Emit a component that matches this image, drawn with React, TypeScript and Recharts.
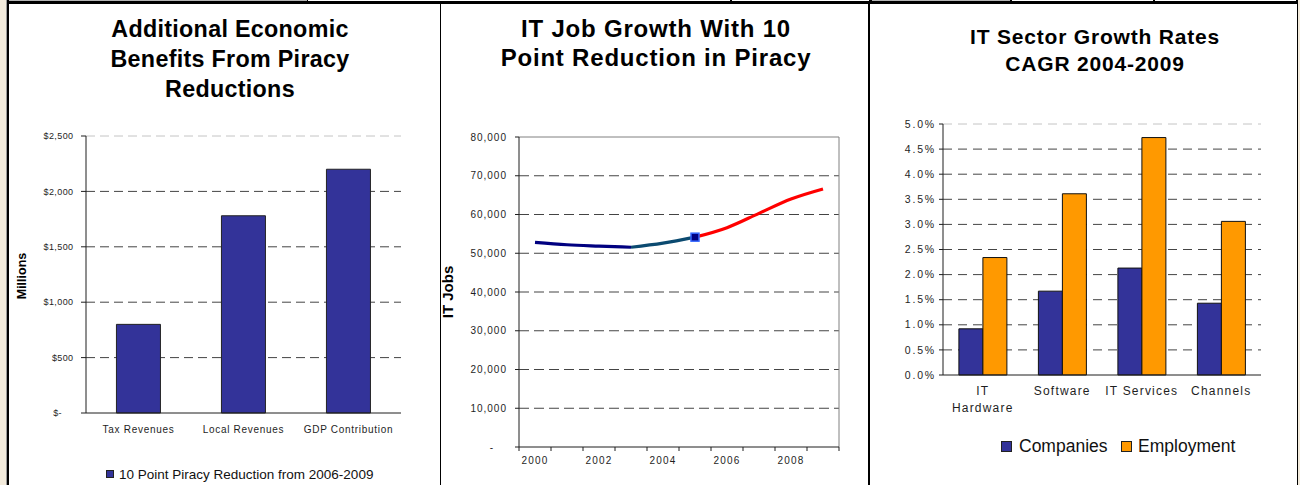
import React from 'react';
import { BarChart, Bar, LineChart, Line, XAxis, YAxis, CartesianGrid } from 'recharts';

const FONT = '"Liberation Sans", Arial, Helvetica, sans-serif';
const INK = '#1e1e1e';
const NAVY = '#333399';
const ORANGE = '#FF9900';

// ---------- Panel 1: Additional Economic Benefits ----------
const benefitTitle = ['Additional Economic', 'Benefits From Piracy', 'Reductions'];
const benefitCategories = ['Tax Revenues', 'Local Revenues', 'GDP Contribution'];
const benefitValues = [800, 1780, 2200];
const benefitTicks = [0, 500, 1000, 1500, 2000, 2500];
const benefitAxisLabel = 'Millions';
const benefitSeries = '10 Point Piracy Reduction from 2006-2009';

// ---------- Panel 2: IT Job Growth ----------
const jobTitle = ['IT Job Growth With 10', 'Point Reduction in Piracy'];
const jobYears = [2000, 2001, 2002, 2003, 2004, 2005, 2006, 2007, 2008, 2009];
const itJobs = [52800, 52200, 51850, 51550, 52600, 54150, 56600, 60300, 64000, 66600];
const jobTicks = [0, 10000, 20000, 30000, 40000, 50000, 60000, 70000, 80000];
const jobLabelYears = [2000, 2002, 2004, 2006, 2008];
const jobAxisLabel = 'IT Jobs';
const historicEndYear = 2003;
const projectionStartYear = 2005;

// ---------- Panel 3: IT Sector Growth Rates ----------
const growthTitle = ['IT Sector Growth Rates', 'CAGR 2004-2009'];
const sectors = ['IT Hardware', 'Software', 'IT Services', 'Channels'];
const companiesGrowth = [0.92, 1.67, 2.13, 1.43];
const employmentGrowth = [2.34, 3.61, 4.73, 3.06];
const growthTicks = [0, 0.5, 1, 1.5, 2, 2.5, 3, 3.5, 4, 4.5, 5];
const growthSeries = ['Companies', 'Employment'];

// ---------- derived tables ----------
const benefitData = benefitCategories.map((c, i) => ({ category: c, value: benefitValues[i] }));
const benefitBounds = benefitCategories.map((_, i) => i).concat(benefitCategories.length);

const jobData = jobYears.map((y, i) => ({
  year: y,
  historic: y <= historicEndYear ? itJobs[i] : null,
  transition: y >= historicEndYear && y <= projectionStartYear ? itJobs[i] : null,
  projected: y >= projectionStartYear ? itJobs[i] : null,
}));
const jobBounds = jobYears.map((y) => y - 0.5).concat(jobYears[jobYears.length - 1] + 0.5);
const jobAxisTicks = [...jobBounds, ...jobLabelYears].sort((a, b) => a - b);

const sectorData = sectors.map((s, i) => ({
  sector: s,
  companies: companiesGrowth[i],
  employment: employmentGrowth[i],
}));
const sectorBounds = sectors.map((_, i) => i).concat(sectors.length);

// ---------- helpers ----------
let measureCtx: CanvasRenderingContext2D | null = null;
const measureText = (s: string, font: string, ls: number) => {
  if (!measureCtx) measureCtx = document.createElement('canvas').getContext('2d');
  if (!measureCtx) return s.length * 7;
  measureCtx.font = font;
  return measureCtx.measureText(s).width + ls * s.length;
};
const wrapLabel = (label: string, maxW: number, font: string, ls: number) => {
  const words = label.split(' ');
  const lines: string[] = [];
  let cur = '';
  words.forEach((w) => {
    const cand = cur ? cur + ' ' + w : w;
    if (cur && measureText(cand, font, ls) > maxW) {
      lines.push(cur);
      cur = w;
    } else {
      cur = cand;
    }
  });
  if (cur) lines.push(cur);
  return lines;
};

type GridOpts = { color: string; dash: string; topColor: string; topDash?: string };
const makeHGrid = (o: GridOpts) => (p: any) => {
  const top = typeof p.y === 'number' && Math.abs(p.y1 - p.y) < 0.5;
  const bottom =
    typeof p.y === 'number' && typeof p.height === 'number' && Math.abs(p.y1 - (p.y + p.height)) < 0.5;
  if (bottom) return <g key={p.key} />;
  return (
    <line
      key={p.key}
      x1={p.x1}
      y1={p.y1}
      x2={p.x2}
      y2={p.y2}
      stroke={top ? o.topColor : o.color}
      strokeWidth={1}
      strokeDasharray={top ? o.topDash : o.dash}
    />
  );
};

const rightBorderOnly = (p: any) => {
  const isRight = typeof p.x === 'number' && typeof p.width === 'number' && Math.abs(p.x1 - (p.x + p.width)) < 0.5;
  if (!isRight) return <g key={p.key} />;
  return <line key={p.key} x1={p.x1} y1={p.y1} x2={p.x2} y2={p.y2} stroke="#808080" strokeWidth={1} />;
};

const Title = ({ lines, left, top, width, size, lh, ls }: any) => (
  <div
    style={{
      position: 'absolute',
      left,
      top,
      width,
      textAlign: 'center',
      fontSize: size,
      lineHeight: `${lh}px`,
      fontWeight: 'bold',
      letterSpacing: ls,
      color: '#000',
      whiteSpace: 'nowrap',
    }}
  >
    {lines.map((l: string) => (
      <div key={l}>{l}</div>
    ))}
  </div>
);

const RotLabel = ({ text, cx, cy, size }: any) => (
  <div
    style={{
      position: 'absolute',
      left: cx - 100,
      top: cy - 10,
      width: 200,
      height: 20,
      lineHeight: '20px',
      textAlign: 'center',
      transform: 'rotate(-90deg)',
      fontWeight: 'bold',
      fontSize: size,
      color: '#000',
    }}
  >
    {text}
  </div>
);

// ---------- tick renderers ----------
const BenefitXTick = (p: any) => (
  <text x={p.x} y={p.y + 20} textAnchor="middle" fontSize={10} letterSpacing={0.7} fill={INK} fontFamily={FONT}>
    {p.payload.value}
  </text>
);
const BenefitYTick = (p: any) => {
  const v = p.payload.value;
  return (
    <text
      x={p.x - (v === 0 ? 11.5 : 0)}
      y={p.y}
      dy="0.35em"
      textAnchor="end"
      fontSize={9}
      letterSpacing={0.4}
      fill={INK}
      fontFamily={FONT}
    >
      {v === 0 ? '$-' : '$' + v.toLocaleString('en-US')}
    </text>
  );
};

const JobXTick = (p: any) => {
  const v = p.payload.value;
  if (jobLabelYears.includes(v)) {
    return (
      <text x={p.x} y={p.y + 17} textAnchor="middle" fontSize={10} letterSpacing={1.2} fill={INK} fontFamily={FONT}>
        {String(v)}
      </text>
    );
  }
  if (jobBounds.includes(v)) {
    return <line x1={p.x} y1={p.y} x2={p.x} y2={p.y + 4} stroke={INK} strokeWidth={1} />;
  }
  return <g />;
};
const JobYTick = (p: any) => {
  const v = p.payload.value;
  return (
    <text
      x={p.x - (v === 0 ? 13 : 0)}
      y={p.y}
      dy="0.35em"
      textAnchor="end"
      fontSize={10}
      letterSpacing={1}
      fill={INK}
      fontFamily={FONT}
    >
      {v === 0 ? '-' : v.toLocaleString('en-US')}
    </text>
  );
};

const SECTOR_FONT = `12px ${FONT}`;
const SectorXTick = (p: any) => {
  const lines = wrapLabel(String(p.payload.value), 76, SECTOR_FONT, 1.2);
  return (
    <text x={p.x} y={p.y + 20.3} textAnchor="middle" fontSize={12} letterSpacing={1.2} fill={INK} fontFamily={FONT}>
      {lines.map((l, i) => (
        <tspan key={l} x={p.x} dy={i === 0 ? 0 : 16.4}>
          {l}
        </tspan>
      ))}
    </text>
  );
};
const SectorYTick = (p: any) => (
  <text x={p.x} y={p.y} dy="0.35em" textAnchor="end" fontSize={10.5} letterSpacing={1.8} fill={INK} fontFamily={FONT}>
    {p.payload.value.toFixed(1) + '%'}
  </text>
);

const MarkerDot = (p: any) => {
  if (!p.payload || p.payload.year !== projectionStartYear || p.cx == null || p.cy == null) {
    return <g key={p.key} />;
  }
  return (
    <rect key={p.key} x={p.cx - 4} y={p.cy - 4} width={8} height={8} fill="#000080" stroke="#3366FF" strokeWidth={1.5} />
  );
};

// ---------- page ----------
export default function App() {
  return (
    <div
      style={{
        position: 'absolute',
        left: 0,
        top: 0,
        width: 1300,
        height: 485,
        background: '#fff',
        overflow: 'hidden',
        fontFamily: FONT,
      }}
    >
      {/* frame */}
      <div style={{ position: 'absolute', left: 0, top: 0, width: 6, height: 485, background: '#f3ebdc' }} />
      <div style={{ position: 'absolute', left: 6, top: 0, width: 1, height: 485, background: '#9a9a9a' }} />
      <div style={{ position: 'absolute', left: 7, top: 0, width: 1.5, height: 485, background: '#000' }} />
      <div style={{ position: 'absolute', left: 1297, top: 0, width: 1.3, height: 485, background: '#000' }} />
      <div style={{ position: 'absolute', left: 1298.3, top: 0, width: 2, height: 485, background: '#f3ebdc' }} />
      <div style={{ position: 'absolute', left: 7, top: 0, width: 1291, height: 4.2, background: '#000' }} />
      <div style={{ position: 'absolute', left: 8.5, top: 0, width: 298, height: 1.3, background: '#b4b4b4' }} />
      <div style={{ position: 'absolute', left: 308, top: 0, width: 422, height: 1.3, background: '#fff' }} />
      <div style={{ position: 'absolute', left: 732, top: 0, width: 137, height: 1.3, background: '#fff' }} />
      <div style={{ position: 'absolute', left: 871.5, top: 0, width: 138.5, height: 1.3, background: '#b4b4b4' }} />
      <div style={{ position: 'absolute', left: 1012, top: 0, width: 141, height: 1.3, background: '#fff' }} />
      <div style={{ position: 'absolute', left: 1155, top: 0, width: 141, height: 1.3, background: '#fff' }} />
      <div style={{ position: 'absolute', left: 440, top: 4, width: 1, height: 481, background: '#000' }} />
      <div style={{ position: 'absolute', left: 868, top: 4, width: 2, height: 481, background: '#000' }} />

      {/* ---------- Panel 1 ---------- */}
      <Title lines={benefitTitle} left={20} top={14.4} width={420} size={23.3} lh={30} ls={0.3} />
      <RotLabel text={benefitAxisLabel} cx={21.5} cy={276} size={12.5} />
      <div style={{ position: 'absolute', left: 7, top: 110 }}>
        <BarChart
          width={433}
          height={336}
          data={benefitData}
          margin={{ top: 26, right: 39, bottom: 0, left: 0 }}
          barCategoryGap="29%"
        >
          <CartesianGrid vertical={false} horizontal={makeHGrid({ color: '#444', dash: '9 5', topColor: '#c4c4c4', topDash: '9 5' })} />
          <XAxis
            xAxisId="bounds"
            type="number"
            domain={[0, benefitCategories.length]}
            ticks={benefitBounds}
            allowDataOverflow
            interval={0}
            height={0}
            axisLine={false}
            tick={false}
            tickLine={{ stroke: INK }}
            tickSize={4}
          />
          <XAxis
            dataKey="category"
            axisLine={{ stroke: INK }}
            tickLine={false}
            tickSize={0}
            tickMargin={0}
            tick={BenefitXTick}
            height={33}
            interval={0}
          />
          <YAxis
            domain={[0, 2500]}
            ticks={benefitTicks}
            interval={0}
            width={79}
            axisLine={{ stroke: INK }}
            tickLine={{ stroke: INK }}
            tickSize={5}
            tickMargin={7.5}
            tick={BenefitYTick}
          />
          <Bar dataKey="value" name={benefitSeries} fill={NAVY} stroke="#222" strokeWidth={1} isAnimationActive={false} />
        </BarChart>
      </div>
      <div style={{ position: 'absolute', left: 106, top: 466, height: 16, display: 'flex', alignItems: 'center', whiteSpace: 'nowrap' }}>
        <div style={{ width: 8, height: 8, background: NAVY, border: '1px solid #222', boxSizing: 'border-box', marginRight: 5 }} />
        <span style={{ fontSize: 13.5, color: '#111' }}>{benefitSeries}</span>
      </div>

      {/* ---------- Panel 2 ---------- */}
      <Title lines={jobTitle} left={441} top={14.3} width={430} size={24} lh={29} ls={0.8} />
      <RotLabel text={jobAxisLabel} cx={448} cy={291.5} size={15} />
      <div style={{ position: 'absolute', left: 440, top: 110 }}>
        <LineChart width={428} height={362} data={jobData} margin={{ top: 27, right: 29, bottom: 0, left: 0 }}>
          <CartesianGrid
            horizontal={makeHGrid({ color: '#444', dash: '10 5', topColor: '#808080' })}
            vertical={rightBorderOnly}
          />
          <XAxis
            dataKey="year"
            type="number"
            domain={[jobBounds[0], jobBounds[jobBounds.length - 1]]}
            ticks={jobAxisTicks}
            allowDataOverflow
            interval={0}
            tick={JobXTick}
            tickLine={false}
            tickSize={0}
            tickMargin={0}
            axisLine={{ stroke: INK }}
            height={25}
          />
          <YAxis
            domain={[0, 80000]}
            ticks={jobTicks}
            interval={0}
            width={79}
            axisLine={{ stroke: INK }}
            tickLine={{ stroke: INK }}
            tickSize={4}
            tickMargin={8}
            tick={JobYTick}
          />
          <Line type="monotone" dataKey="historic" stroke="#000080" strokeWidth={3.2} dot={false} isAnimationActive={false} />
          <Line type="monotone" dataKey="transition" stroke="#0b4a70" strokeWidth={3.2} dot={false} isAnimationActive={false} />
          <Line
            type="monotone"
            dataKey="projected"
            stroke="#FF0000"
            strokeWidth={3.2}
            dot={MarkerDot}
            activeDot={false}
            isAnimationActive={false}
          />
        </LineChart>
      </div>

      {/* ---------- Panel 3 ---------- */}
      <Title lines={growthTitle} left={880} top={24.2} width={430} size={21} lh={26.4} ls={0.8} />
      <div style={{ position: 'absolute', left: 869, top: 100 }}>
        <BarChart
          width={428}
          height={320}
          data={sectorData}
          margin={{ top: 24, right: 36, bottom: 0, left: 0 }}
          barCategoryGap="20%"
          barGap={0}
        >
          <CartesianGrid vertical={false} horizontal={makeHGrid({ color: '#444', dash: '9 6', topColor: '#c4c4c4', topDash: '9 6' })} />
          <XAxis
            xAxisId="bounds"
            type="number"
            domain={[0, sectors.length]}
            ticks={sectorBounds}
            allowDataOverflow
            interval={0}
            height={0}
            axisLine={false}
            tick={false}
            tickLine={{ stroke: INK }}
            tickSize={4}
          />
          <XAxis
            dataKey="sector"
            axisLine={{ stroke: INK }}
            tickLine={false}
            tickSize={0}
            tickMargin={0}
            tick={SectorXTick}
            height={45}
            interval={0}
          />
          <YAxis
            domain={[0, 5]}
            ticks={growthTicks}
            interval={0}
            width={74}
            axisLine={{ stroke: INK }}
            tickLine={{ stroke: INK }}
            tickSize={4}
            tickMargin={3}
            tick={SectorYTick}
          />
          <Bar dataKey="companies" name={growthSeries[0]} fill={NAVY} stroke="#111" strokeWidth={1} isAnimationActive={false} />
          <Bar dataKey="employment" name={growthSeries[1]} fill={ORANGE} stroke="#111" strokeWidth={1} isAnimationActive={false} />
        </BarChart>
      </div>
      <div style={{ position: 'absolute', left: 1001, top: 436.5, height: 20, display: 'flex', alignItems: 'center', whiteSpace: 'nowrap' }}>
        <div style={{ width: 11, height: 11, background: NAVY, border: '1px solid #222', boxSizing: 'border-box', marginRight: 7 }} />
        <span style={{ fontSize: 17.5, color: '#111', marginRight: 13.5 }}>{growthSeries[0]}</span>
        <div style={{ width: 11, height: 11, background: ORANGE, border: '1px solid #222', boxSizing: 'border-box', marginRight: 6 }} />
        <span style={{ fontSize: 17.5, color: '#111' }}>{growthSeries[1]}</span>
      </div>
    </div>
  );
}
